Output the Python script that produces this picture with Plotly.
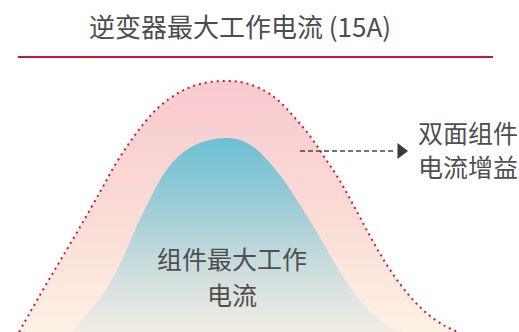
import plotly.graph_objects as go

# Outer curve (module + bifacial gain)
outer_x = [19, 40, 60, 80, 100, 115, 130, 145, 160, 180, 200, 225,
           245, 265, 280, 295, 310, 325, 340, 355, 370, 385, 400, 415, 430, 445, 458]
outer_y = [0, 37, 71, 105, 140, 167, 190, 210, 226, 240, 248, 251,
           249, 241, 230, 214, 196, 174, 151, 124, 96, 70, 48, 30, 16, 6, 0]

# Inner curve (module max working current)
inner_x = [72, 90, 105, 120, 135, 150, 165, 180, 195, 210, 225,
           240, 255, 270, 285, 300, 315, 330, 345, 360, 375, 390, 402]
inner_y = [0, 21, 41, 68, 102, 133, 160, 177, 187, 192, 194,
           192, 184, 169, 150, 127, 103, 77, 52, 31, 16, 5, 0]

title_text = "逆变器最大工作电流 (15A)"
inner_lines = ["组件最大工作", "电流"]
gain_lines = ["双面组件", "电流增益"]

FONT = "Noto Sans CJK SC"

fig = go.Figure()

fig.add_trace(go.Scatter(
    x=outer_x, y=outer_y, mode="lines", line_shape="spline",
    line=dict(color="#d2142f", width=2, dash="2px,4px"),
    fill="tozeroy",
    fillgradient=dict(type="vertical", start=0, stop=251,
                      colorscale=[[0, "#fdf1e4"], [0.5, "#fadad6"], [1, "#f8cacf"]]),
    hoverinfo="skip", showlegend=False,
))

fig.add_trace(go.Scatter(
    x=inner_x, y=inner_y, mode="lines", line_shape="spline",
    line=dict(color="rgba(0,0,0,0)", width=0),
    fill="tozeroy",
    fillgradient=dict(type="vertical", start=0, stop=194,
                      colorscale=[[0, "#f3ede5"], [0.35, "#c8dcdc"], [0.7, "#96cad6"], [1, "#6bc0d2"]]),
    hoverinfo="skip", showlegend=False,
))

# dashed arrow line
fig.add_shape(type="line", x0=300, x1=396, y0=181, y1=181,
              line=dict(color="#444444", width=1.5, dash="5px,3px"))
fig.add_trace(go.Scatter(
    x=[401], y=[181], mode="markers",
    marker=dict(symbol="triangle-right", size=14, color="#3a3a3a"),
    hoverinfo="skip", showlegend=False,
))

# red top line
fig.add_shape(type="line", x0=18, x1=493, y0=275, y1=275,
              line=dict(color="#cc1530", width=2))

annos = []
annos.append(dict(x=240, y=307, text=title_text, showarrow=False,
                  font=dict(family=FONT, size=26, color="#4d4d4d"),
                  xanchor="center", yanchor="middle"))
for i, t in enumerate(inner_lines):
    annos.append(dict(x=232, y=74 - 36 * i, text=t, showarrow=False,
                      font=dict(family=FONT, size=25, color="#4f4f4f"),
                      xanchor="center", yanchor="middle"))
for i, t in enumerate(gain_lines):
    annos.append(dict(x=416, y=200 - 34 * i, text=t, showarrow=False,
                      font=dict(family=FONT, size=25, color="#4f4f4f"),
                      xanchor="left", yanchor="middle"))

fig.update_layout(
    width=519, height=332,
    margin=dict(l=0, r=0, t=0, b=0),
    paper_bgcolor="white", plot_bgcolor="white",
    xaxis=dict(range=[0, 519], visible=False, fixedrange=True),
    yaxis=dict(range=[0, 332], visible=False, fixedrange=True),
    annotations=annos,
    showlegend=False,
)

fig.write_html("out.html")
